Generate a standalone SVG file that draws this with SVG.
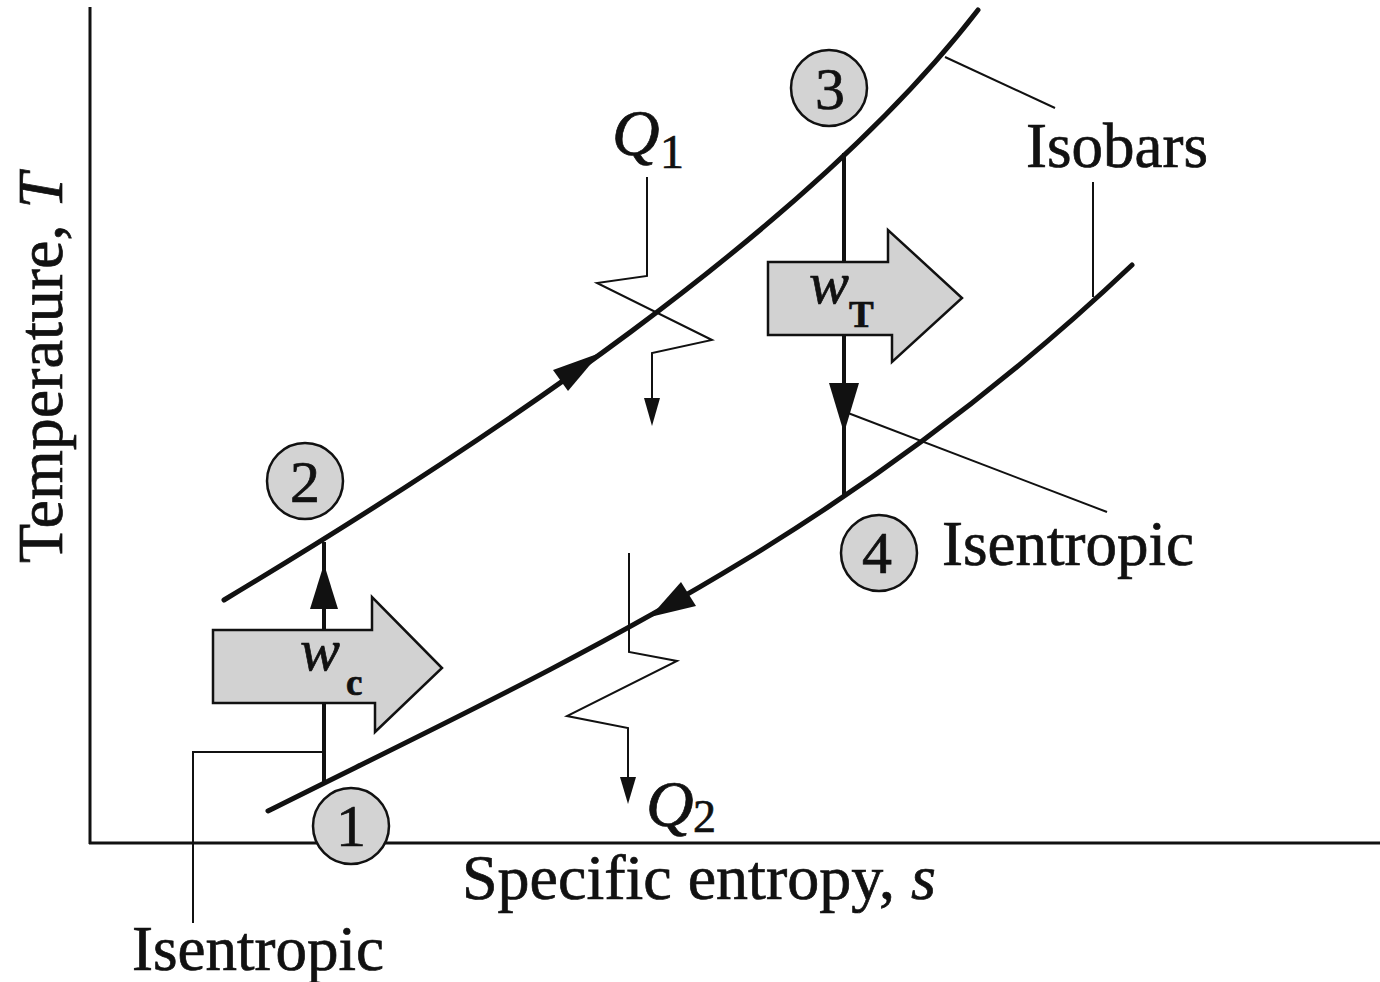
<svg xmlns="http://www.w3.org/2000/svg" width="1380" height="982" viewBox="0 0 1380 982">
<style>
  .lbl { font-family: "Liberation Serif", "Times New Roman", serif; fill: #111; stroke: #111; stroke-width: 0.7; }
  .it { font-style: italic; }
  .thin { fill: none; stroke: #111; stroke-width: 2; }
  .isobar { fill: none; stroke: #111; stroke-width: 5; stroke-linecap: round; }
  .isen { fill: none; stroke: #111; stroke-width: 4; }
  .head { fill: #111; stroke: none; }
  .state circle { fill: #d3d3d3; stroke: #111; stroke-width: 2.5; }
  .block { fill: #d2d2d2; stroke: #111; stroke-width: 2.5; stroke-linejoin: miter; }
</style>
<rect width="1380" height="982" fill="#ffffff"/>

<g id="axes">
  <line x1="90" y1="7" x2="90" y2="844" stroke="#111" stroke-width="3"/>
  <line x1="89" y1="843" x2="1380" y2="843" stroke="#111" stroke-width="3"/>
  <text class="lbl" x="0" y="0" font-size="64" transform="translate(62,563) rotate(-90)">Temperature, <tspan class="it">T</tspan></text>
  <text class="lbl" x="462" y="899" font-size="64">Specific entropy, <tspan class="it">s</tspan></text>
</g>

<g id="connectors">
  <!-- isobars -->
  <path class="isobar" d="M224,600 C474,450 808,231 978,10"/>
  <path class="isobar" d="M268,811 C558,666 842,540.5 1132,265"/>
  <polygon class="head" points="600,353 568,391 553,370"/>
  <polygon class="head" points="650,617 696,606 681,582"/>
  <!-- isentropic 1-2 -->
  <line class="isen" x1="324" y1="784" x2="324" y2="542"/>
  <polygon class="head" points="324,564 310,609 338,609"/>
  <!-- isentropic 3-4 -->
  <line class="isen" x1="844" y1="153" x2="844" y2="496"/>
  <polygon class="head" points="829,383 859,383 844,433"/>
  <!-- heat Q1 -->
  <polyline class="thin" points="647,177 647,276 597,283 712,340 652,353 652,405"/>
  <polygon class="head" points="644,398 660,398 652,426"/>
  <!-- heat Q2 -->
  <polyline class="thin" points="629,553 629,652 677,661 567,716 628,728 628,783"/>
  <polygon class="head" points="620,777 636,777 628,804"/>
  <!-- leaders -->
  <line class="thin" x1="945" y1="57" x2="1055" y2="108"/>
  <line class="thin" x1="1093" y1="182" x2="1093" y2="297"/>
  <line class="thin" x1="848" y1="413" x2="1107" y2="512"/>
  <polyline class="thin" points="324,752 193,752 193,923"/>
</g>

<g id="work-compressor">
  <polygon class="block" points="213,630 372,630 372,597 442,668 375,732 375,703 213,703"/>
  <text class="lbl it" x="300" y="670" font-size="60">w</text>
  <text class="lbl" x="346" y="695" font-size="37" font-weight="bold">c</text>
</g>

<g id="work-turbine">
  <polygon class="block" points="768,262 888,262 888,230 962,298 892,362 892,335 768,335"/>
  <text class="lbl it" x="809" y="303" font-size="60">w</text>
  <text class="lbl" x="849" y="327" font-size="37" font-weight="bold">T</text>
</g>

<g id="state-1" class="state">
  <circle cx="351" cy="826" r="38"/>
  <text class="lbl" x="351" y="846" font-size="60" text-anchor="middle">1</text>
</g>
<g id="state-2" class="state">
  <circle cx="305" cy="481" r="38"/>
  <text class="lbl" x="305" y="502" font-size="60" text-anchor="middle">2</text>
</g>
<g id="state-3" class="state">
  <circle cx="829" cy="88" r="38"/>
  <text class="lbl" x="830" y="109" font-size="60" text-anchor="middle">3</text>
</g>
<g id="state-4" class="state">
  <circle cx="879" cy="553" r="38"/>
  <text class="lbl" x="877" y="573" font-size="60" text-anchor="middle">4</text>
</g>

<g id="label-Q1">
  <text class="lbl it" x="612" y="155" font-size="66">Q</text>
  <text class="lbl" x="660" y="168" font-size="48">1</text>
</g>
<g id="label-Q2">
  <text class="lbl it" x="646" y="826" font-size="66">Q</text>
  <text class="lbl" x="693" y="832" font-size="46">2</text>
</g>
<g id="label-isobars">
  <text class="lbl" x="1026" y="167" font-size="63">Isobars</text>
</g>
<g id="label-isentropic-right">
  <text class="lbl" x="942" y="565" font-size="63">Isentropic</text>
</g>
<g id="label-isentropic-left">
  <text class="lbl" x="132" y="970" font-size="63">Isentropic</text>
</g>
</svg>
